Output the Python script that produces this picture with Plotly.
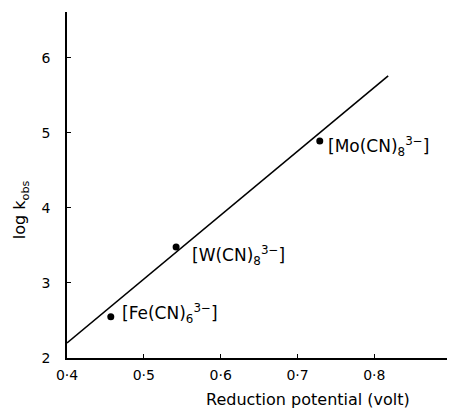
import plotly.graph_objects as go

# Data
complexes = ["[Fe(CN)<sub>6</sub><sup>3−</sup>]", "[W(CN)<sub>8</sub><sup>3−</sup>]", "[Mo(CN)<sub>8</sub><sup>3−</sup>]"]
potential = [0.457, 0.542, 0.729]
log_kobs = [2.55, 3.48, 4.89]
label_dx = [9, 14, 6]
label_dy = [3, -9, -5]
fit_x = [0.40, 0.818]
fit_y = [2.20, 5.76]
x_ticks = [0.4, 0.5, 0.6, 0.7, 0.8]
x_ticklabels = ["0·4", "0·5", "0·6", "0·7", "0·8"]
y_ticks = [2, 3, 4, 5, 6]

FONT = "DejaVu Sans"

fig = go.Figure()
fig.add_trace(go.Scatter(x=fit_x, y=fit_y, mode="lines",
                         line=dict(color="black", width=1.6), showlegend=False,
                         cliponaxis=False))
fig.add_trace(go.Scatter(x=potential, y=log_kobs, mode="markers",
                         marker=dict(color="black", size=7), showlegend=False,
                         cliponaxis=False))

for xv, yv, name, dx, dy in zip(potential, log_kobs, complexes, label_dx, label_dy):
    fig.add_annotation(x=xv, y=yv, text=name, showarrow=False,
                       xanchor="left", yanchor="middle", xshift=dx, yshift=dy,
                       font=dict(family=FONT, size=17, color="black"))

fig.add_annotation(xref="paper", yref="paper", x=0.621, y=-0.121,
                   text="Reduction potential (volt)", showarrow=False,
                   xanchor="center", yanchor="middle",
                   font=dict(family=FONT, size=16, color="black"))
fig.add_annotation(xref="paper", yref="paper", x=-0.118, y=0.428,
                   text="log k<sub>obs</sub>", showarrow=False, textangle=-90,
                   xanchor="center", yanchor="middle",
                   font=dict(family=FONT, size=16, color="black"))

fig.update_layout(
    width=447, height=406,
    margin=dict(l=59, r=0, t=4, b=56),
    paper_bgcolor="white", plot_bgcolor="white",
    font=dict(family=FONT, size=14, color="black"),
    xaxis=dict(range=[0.4, 0.905], tickvals=x_ticks, ticktext=x_ticklabels,
               showline=True, linecolor="black", linewidth=1.5,
               ticks="inside", ticklen=4, tickcolor="black",
               showgrid=False, zeroline=False, ticklabelstandoff=3),
    yaxis=dict(range=[2, 6.61], tickvals=y_ticks,
               showline=True, linecolor="black", linewidth=1.5,
               ticks="inside", ticklen=4, tickcolor="black",
               showgrid=False, zeroline=False, ticklabelstandoff=12),
)

fig.write_html("out.html")
